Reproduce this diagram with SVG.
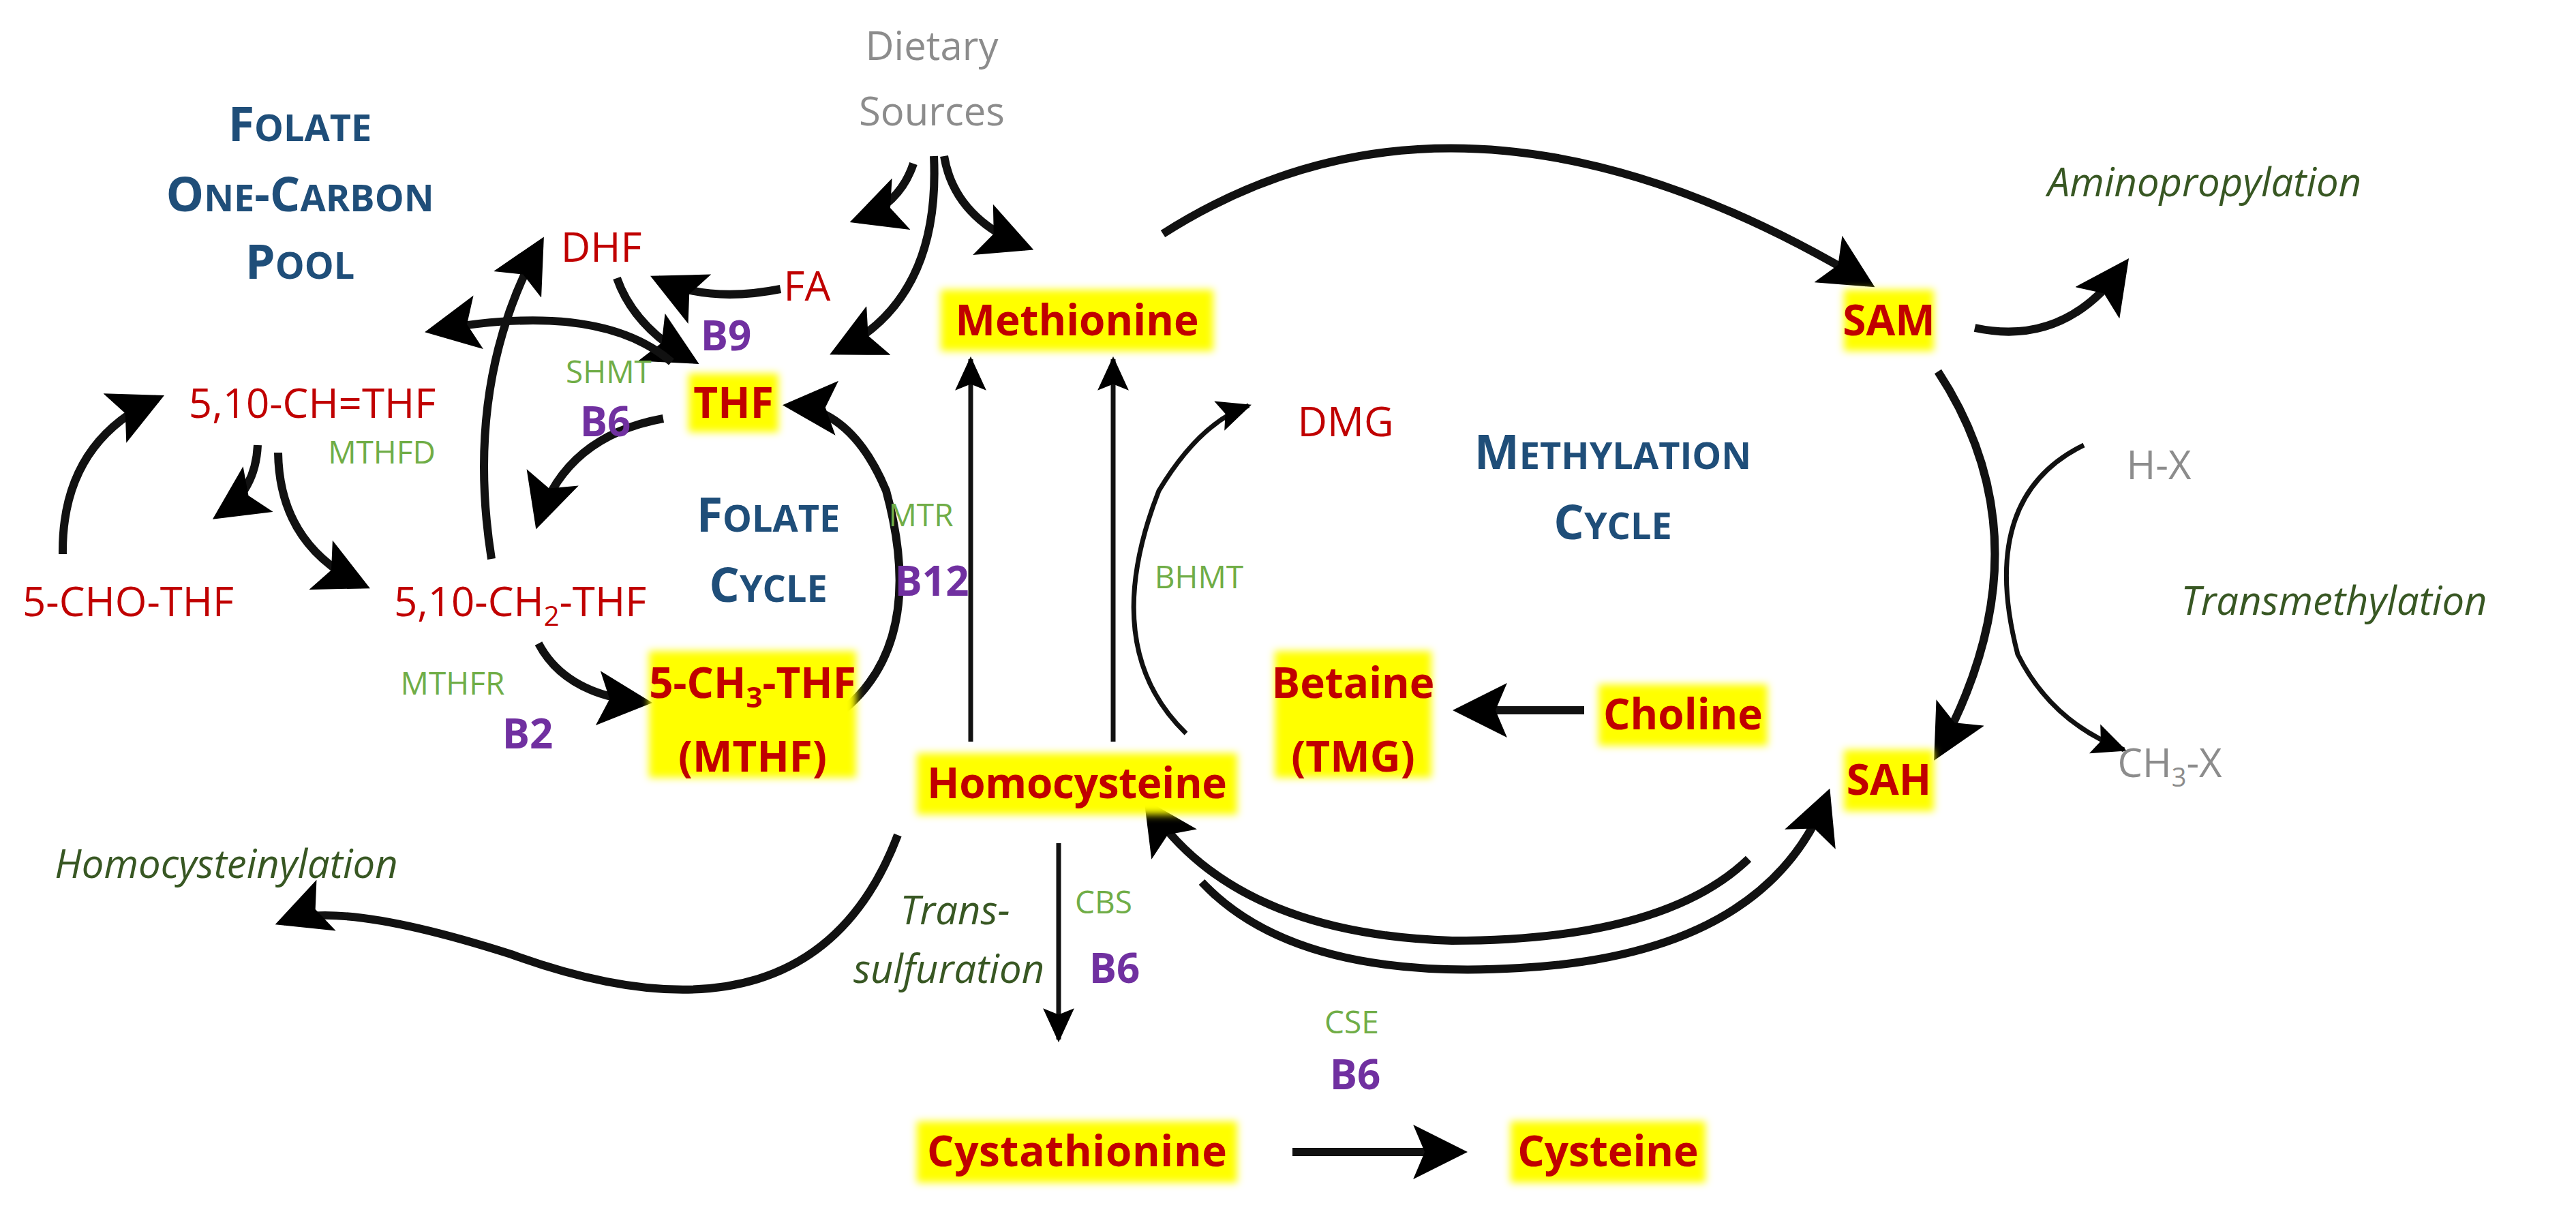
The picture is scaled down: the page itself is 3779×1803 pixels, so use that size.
<svg xmlns="http://www.w3.org/2000/svg" width="3779" height="1803" viewBox="0 0 3779 1803">
<defs>
<marker id="ah" markerUnits="userSpaceOnUse" markerWidth="80" markerHeight="80" refX="56" refY="33" orient="auto" viewBox="0 0 66 66"><path d="M0,0 L66,33 L0,66 L14,33 Z" fill="#000"/></marker>
<marker id="ahs" markerUnits="userSpaceOnUse" markerWidth="50" markerHeight="50" refX="44" refY="22" orient="auto" viewBox="0 0 48 44"><path d="M0,0 L48,22 L0,44 L9,22 Z" fill="#000"/></marker>
<filter id="glow" x="-20%" y="-20%" width="140%" height="140%"><feGaussianBlur stdDeviation="6"/></filter>
</defs>
<style>
text{font-family:"Open Sans","Noto Sans","Liberation Sans",sans-serif;text-anchor:middle}
.hl{fill:#ffff00;filter:url(#glow)}
.red{fill:#c00000;font-size:60px}
.redb{fill:#c00000;font-size:62px;font-weight:bold}
.gray{fill:#8c8c8c;font-size:58px}
.hd{fill:#1f4e79;font-size:70px;font-weight:bold}
.hds{font-size:54px}
.enz{fill:#70ad47;font-size:46px}
.vit{fill:#7030a0;font-size:60px;font-weight:bold}
.it{fill:#385723;font-size:58px;font-style:italic}
.c{fill:none;stroke:#111;stroke-width:12;marker-end:url(#ah)}
.t{fill:none;stroke:#111;stroke-width:7;marker-end:url(#ahs)}
</style>
<g id="connectors">
<path class="c" d="M1340,240 Q1320,300 1258,322"/>
<path class="c" d="M1370,229 Q1380,440 1228,515"/>
<path class="c" d="M1385,229 Q1400,320 1505,362"/>
<path class="c" d="M1145,424 Q1040,445 965,410"/>
<path class="c" d="M905,408 Q930,480 1015,528"/>
<path class="c" d="M985,531 Q880,440 635,485"/>
<path class="c" d="M721,820 Q680,560 792,358"/>
<path class="c" d="M973,614 Q830,640 790,765"/>
<path class="c" d="M378,653 Q375,720 322,755"/>
<path class="c" d="M92,813 Q90,650 230,585"/>
<path class="c" d="M408,664 Q410,800 532,858"/>
<path class="c" d="M790,944 Q830,1020 945,1030"/>
<path class="c" d="M1237,1042 Q1360,940 1300,720 Q1250,600 1160,595"/>
<path class="t" d="M1424,1088 L1424,527"/>
<path class="t" d="M1633,1088 L1633,527"/>
<path class="t" d="M1740,1076 Q1610,950 1700,720 Q1760,620 1832,595"/>
<path class="c" d="M2324,1042 L2143,1042"/>
<path class="c" d="M1706,343 Q2150,60 2740,415"/>
<path class="c" d="M2897,481 Q3030,510 3116,389"/>
<path class="c" d="M2843,545 Q3010,800 2843,1105"/>
<path class="t" d="M3057,653 Q2900,730 2960,960 Q3010,1060 3116,1100"/>
<path class="c" d="M1317,1225 Q1190,1560 750,1400 Q500,1320 415,1352"/>
<path class="c" d="M2565,1260 Q2440,1380 2130,1380 Q1810,1370 1685,1182"/>
<path class="c" d="M1763,1294 Q1900,1440 2230,1420 Q2590,1400 2680,1168"/>
<path class="t" d="M1553,1237 L1553,1525"/>
<path class="c" d="M1896,1690 L2141,1690"/>
</g>
<g id="dietary"><text class="gray" x="1367" y="88">Dietary</text><text class="gray" x="1367" y="184">Sources</text></g>
<g id="pool-label"><text class="hd" x="440" y="207">F<tspan class="hds">OLATE</tspan></text><text class="hd" x="440" y="310">O<tspan class="hds">NE</tspan>-C<tspan class="hds">ARBON</tspan></text><text class="hd" x="440" y="409">P<tspan class="hds">OOL</tspan></text></g>
<g id="folate-label"><text class="hd" x="1127" y="780">F<tspan class="hds">OLATE</tspan></text><text class="hd" x="1127" y="883">C<tspan class="hds">YCLE</tspan></text></g>
<g id="meth-label"><text class="hd" x="2366" y="688">M<tspan class="hds">ETHYLATION</tspan></text><text class="hd" x="2366" y="791">C<tspan class="hds">YCLE</tspan></text></g>
<g id="dhf"><text class="red" x="882" y="384">DHF</text></g>
<g id="fa"><text class="red" x="1184" y="441">FA</text></g>
<g id="b9"><text class="vit" x="1065" y="514">B9</text></g>
<g id="thf"><rect class="hl" x="1010" y="548" width="132" height="86"/><text class="redb" x="1076" y="613">THF</text></g>
<g id="methionine"><rect class="hl" x="1380" y="425" width="400" height="90"/><text class="redb" x="1580" y="492">Methionine</text></g>
<g id="sam"><rect class="hl" x="2705" y="425" width="132" height="90"/><text class="redb" x="2771" y="492">SAM</text></g>
<g id="aminoprop"><text class="it" x="3234" y="288">Aminopropylation</text></g>
<g id="ch-thf"><text class="red" x="458" y="613">5,10-CH=THF</text></g>
<g id="dmg"><text class="red" x="1974" y="640">DMG</text></g>
<g id="shmt"><text class="enz" x="893" y="562">SHMT</text><text class="vit" x="888" y="640">B6</text></g>
<g id="mthfd"><text class="enz" x="560" y="680">MTHFD</text></g>
<g id="mtr"><text class="enz" x="1351" y="772">MTR</text><text class="vit" x="1367" y="874">B12</text></g>
<g id="bhmt"><text class="enz" x="1759" y="863">BHMT</text></g>
<g id="hx"><text class="gray" x="3167" y="703">H-X</text></g>
<g id="transmeth"><text class="it" x="3424" y="902">Transmethylation</text></g>
<g id="cho-thf"><text class="red" x="188" y="904">5-CHO-THF</text></g>
<g id="ch2-thf"><text class="red" x="763" y="904">5,10-CH<tspan font-size="40" dy="14">2</tspan><tspan dy="-14">-THF</tspan></text></g>
<g id="mthfr"><text class="enz" x="664" y="1019">MTHFR</text><text class="vit" x="774" y="1098">B2</text></g>
<g id="mthf"><rect class="hl" x="952" y="955" width="304" height="186"/><text class="redb" x="1104" y="1024">5-CH<tspan font-size="42" dy="14">3</tspan><tspan dy="-14">-THF</tspan></text><text class="redb" x="1104" y="1132">(MTHF)</text></g>
<g id="homocysteine"><rect class="hl" x="1345" y="1105" width="470" height="90"/><text class="redb" x="1580" y="1171" textLength="440">Homocysteine</text></g>
<g id="betaine"><rect class="hl" x="1870" y="955" width="230" height="186"/><text class="redb" x="1985" y="1024">Betaine</text><text class="redb" x="1985" y="1132">(TMG)</text></g>
<g id="choline"><rect class="hl" x="2345" y="1004" width="248" height="90"/><text class="redb" x="2469" y="1070">Choline</text></g>
<g id="sah"><rect class="hl" x="2705" y="1100" width="132" height="90"/><text class="redb" x="2771" y="1166">SAH</text></g>
<g id="ch3x"><text class="gray" x="3183" y="1140">CH<tspan font-size="38" dy="14">3</tspan><tspan dy="-14">-X</tspan></text></g>
<g id="homocysteinylation"><text class="it" x="332" y="1288">Homocysteinylation</text></g>
<g id="transsulf"><text class="it" x="1401" y="1356">Trans-</text><text class="it" x="1392" y="1442">sulfuration</text></g>
<g id="cbs"><text class="enz" x="1619" y="1340">CBS</text><text class="vit" x="1635" y="1442">B6</text></g>
<g id="cse"><text class="enz" x="1983" y="1516">CSE</text><text class="vit" x="1988" y="1598">B6</text></g>
<g id="cystathionine"><rect class="hl" x="1345" y="1645" width="470" height="90"/><text class="redb" x="1580" y="1711" textLength="440">Cystathionine</text></g>
<g id="cysteine"><rect class="hl" x="2216" y="1645" width="286" height="90"/><text class="redb" x="2359" y="1711">Cysteine</text></g>
</svg>
